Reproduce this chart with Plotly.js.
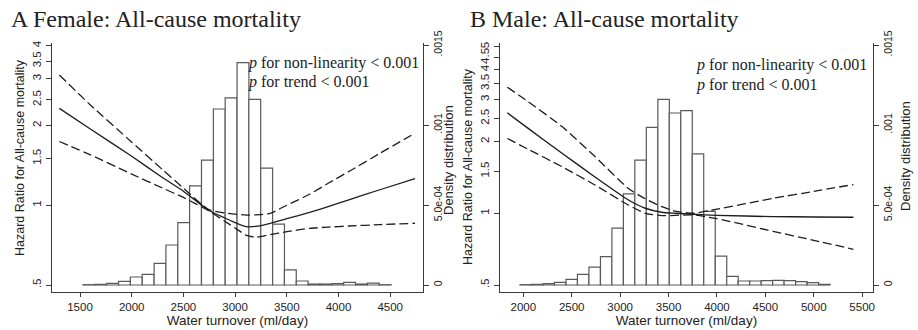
<!DOCTYPE html>
<html>
<head>
<meta charset="utf-8">
<script src="https://cdn.plot.ly/plotly-3.0.1.min.js"></script>
<style>html,body{margin:0;padding:0;background:#fff;}#chart{width:918px;height:330px;}</style>
</head>
<body>
<div id="chart"></div>
<script>
// ---------- Panel A: Female ----------
const femaleBinCenters = [1586, 1701, 1815, 1930, 2044, 2159, 2274, 2388, 2503, 2617, 2732, 2847, 2961,
  3076, 3190, 3305, 3420, 3534, 3649, 3763, 3878, 3993, 4107, 4222, 4336, 4451];
const femaleDensity = [0.000002, 0.000004, 0.000010, 0.000023, 0.000050, 0.000067, 0.000135, 0.000250,
  0.000390, 0.000620, 0.000780, 0.001100, 0.001170, 0.001390, 0.001160, 0.000730, 0.000380, 0.000094,
  0.000025, 0.000006, 0.000006, 0.000008, 0.000017, 0.000006, 0.000012, 0.000002];
const femaleX     = [1300, 1600, 2000, 2300, 2500, 2740, 2900, 3000, 3110, 3200, 3340, 3500, 3720, 3900, 4100, 4400, 4740];
const femaleHR    = [2.32, 1.94, 1.53, 1.27, 1.13, 0.96, 0.895, 0.86, 0.83, 0.832, 0.855, 0.89, 0.94, 0.988, 1.048, 1.144, 1.26];
const femaleUpper = [3.10, 2.39, 1.73, 1.36, 1.16, 0.965, 0.935, 0.925, 0.918, 0.92, 0.932, 1.0, 1.10, 1.21, 1.34, 1.57, 1.87];
const femaleLower = [1.74, 1.55, 1.31, 1.16, 1.07, 0.955, 0.87, 0.82, 0.77, 0.757, 0.775, 0.795, 0.818, 0.827, 0.835, 0.845, 0.855];

// ---------- Panel B: Male ----------
const maleBinCenters = [2025, 2144, 2263, 2381, 2500, 2618, 2737, 2856, 2974, 3093, 3211, 3330, 3449, 3567,
  3686, 3804, 3923, 4042, 4160, 4279, 4398, 4516, 4635, 4753, 4872, 4991, 5109];
const maleDensity = [0.000002, 0.000004, 0.000008, 0.000017, 0.000035, 0.000067, 0.000112, 0.000177,
  0.000355, 0.000570, 0.000780, 0.000985, 0.001160, 0.001075, 0.001090, 0.000820, 0.000460, 0.000180,
  0.000054, 0.000025, 0.000025, 0.000027, 0.000029, 0.000027, 0.000021, 0.000015, 0.000004];
const maleX     = [1835, 2050, 2400, 2740, 3085, 3260, 3430, 3570, 3750, 4000, 4580, 5000, 5410];
const maleHR    = [2.64, 2.27, 1.785, 1.42, 1.137, 1.05, 1.01, 1.0, 0.99, 0.98, 0.968, 0.965, 0.962];
const maleUpper = [3.38, 2.94, 2.31, 1.73, 1.27, 1.15, 1.066, 1.02, 1.0, 1.04, 1.156, 1.235, 1.32];
const maleLower = [2.06, 1.856, 1.568, 1.314, 1.083, 1.0, 0.977, 0.98, 0.985, 0.949, 0.84, 0.77, 0.706];

// ---------- Ticks ----------
const femaleXTicks = [1500, 2000, 2500, 3000, 3500, 4000, 4500];
const maleXTicks = [2000, 2500, 3000, 3500, 4000, 4500, 5000, 5500];
const femaleHRTicks = [0.5, 1, 1.5, 2, 2.5, 3, 3.5, 4];
const femaleHRText = ['.5', '1', '1.5', '2', '2.5', '3', '3.5', '4'];
const maleHRTicks = [0.5, 1, 1.5, 2, 2.5, 3, 3.5, 4, 4.5, 5];
const maleHRText = ['.5', '1', '1.5', '2', '2.5', '3', '3.5', '4', '4.5', '5'];
const densityTicks = [0, 0.0005, 0.001, 0.0015];
const densityText = ['0', '5.0e-04', '.001', '.0015'];
const referenceHR = 1;

const femaleBinWidth = 114.6;
const maleBinWidth = 118.6;

const SANS = 'Liberation Sans, Arial, sans-serif';
const SERIF = 'Liberation Serif, Times New Roman, serif';
const INK = '#222';
const AXIS = '#3a3a3a';

function bars(x, y, w, xa, ya) {
  return {type: 'bar', x: x, y: y, width: w, xaxis: xa, yaxis: ya,
    marker: {color: '#ffffff', line: {color: '#5a5a5a', width: 1.2}},
    hoverinfo: 'skip', showlegend: false};
}
function curve(x, y, xa, ya, dash, w) {
  return {type: 'scatter', mode: 'lines', x: x, y: y, xaxis: xa, yaxis: ya,
    line: {color: '#1e1e1e', width: w, dash: dash, shape: 'spline', smoothing: 0.5},
    hoverinfo: 'skip', showlegend: false};
}

const DASH = '9px,4px';
const traces = [
  bars(femaleBinCenters, femaleDensity, femaleBinWidth, 'x', 'y'),
  curve(femaleX, femaleUpper, 'x', 'y2', DASH, 1.3),
  curve(femaleX, femaleHR, 'x', 'y2', 'solid', 1.3),
  curve(femaleX, femaleLower, 'x', 'y2', DASH, 1.3),
  bars(maleBinCenters, maleDensity, maleBinWidth, 'x2', 'y3'),
  curve(maleX, maleUpper, 'x2', 'y4', DASH, 1.3),
  curve(maleX, maleHR, 'x2', 'y4', 'solid', 1.4),
  curve(maleX, maleLower, 'x2', 'y4', DASH, 1.3)
];

const tickFont = {family: SANS, size: 11.5, color: INK};
const densFont = {family: SANS, size: 10.5, color: INK};

function xAxis(domain, range, ticks, anchor) {
  return {domain: domain, range: range, anchor: anchor, tickvals: ticks, ticktext: ticks.map(String),
    showline: true, linecolor: AXIS, linewidth: 1, ticks: 'outside', ticklen: 4, tickcolor: AXIS,
    showgrid: false, zeroline: false, tickfont: tickFont,
    title: {text: 'Water turnover (ml/day)', font: {family: SANS, size: 13.5, color: INK}, standoff: 1}};
}
function densAxis(anchor) {
  return {anchor: anchor, side: 'right', range: [-0.00004375, 0.0015125], tickvals: densityTicks,
    ticktext: densityText, tickangle: -90, showline: true, linecolor: AXIS, linewidth: 1,
    ticks: 'outside', ticklen: 5, tickcolor: AXIS, showgrid: false, zeroline: false, tickfont: densFont};
}
function hrAxis(anchor, over, range, vals, text) {
  return {anchor: anchor, overlaying: over, side: 'left', type: 'log', range: range,
    tickvals: vals, ticktext: text, tickangle: -90, showline: true, linecolor: AXIS, linewidth: 1,
    ticks: 'outside', ticklen: 5, tickcolor: AXIS, showgrid: false, zeroline: false, tickfont: tickFont};
}

// pixel helpers for paper coordinates (plot area 52..873 x, 43..292 y)
const px = v => (v - 52) / 821;
const py = v => (292 - v) / 249;

function note(text, x, y, size, family, angle, anchor) {
  return {text: text, xref: 'paper', yref: 'paper', x: px(x), y: py(y), showarrow: false,
    xanchor: anchor || 'center', yanchor: 'middle', textangle: angle || 0,
    font: {family: family, size: size, color: INK}};
}

const annotations = [
  note('A Female: All-cause mortality', 9, 19, 24, SERIF, 0, 'left'),
  note('B Male: All-cause mortality', 468, 19, 24, SERIF, 0, 'left'),
  note('<i>p</i> for non-linearity &lt; 0.001', 246, 63, 16, SERIF, 0, 'left'),
  note('<i>p</i> for trend &lt; 0.001', 246, 82, 16, SERIF, 0, 'left'),
  note('<i>p</i> for non-linearity &lt; 0.001', 694, 65, 16, SERIF, 0, 'left'),
  note('<i>p</i> for trend &lt; 0.001', 694, 85, 16, SERIF, 0, 'left'),
  note('Hazard Ratio for All-cause mortality', 20, 158, 12.5, SANS, -90),
  note('Hazard Ratio for All-cause mortality', 468, 166, 12.5, SANS, -90),
  note('Density distribution', 448, 160, 13, SANS, -90),
  note('Density distribution', 905, 156, 13, SANS, -90)
];

const refLine = (xref, yref) => ({type: 'line', xref: xref + ' domain', yref: yref,
  x0: 0, x1: 1, y0: Math.log10(referenceHR), y1: Math.log10(referenceHR),
  line: {color: '#8a8a8a', width: 1, dash: 'dot'}, layer: 'above'});

const layout = {
  width: 918, height: 330,
  margin: {l: 52, r: 45, t: 43, b: 38},
  paper_bgcolor: '#ffffff', plot_bgcolor: '#ffffff',
  showlegend: false,
  font: {family: SANS, color: INK},
  xaxis: xAxis([0, px(423)], [1229, 4817], femaleXTicks, 'y'),
  xaxis2: xAxis([px(500), 1], [1759, 5612], maleXTicks, 'y3'),
  yaxis: densAxis('x'),
  yaxis2: hrAxis('x', 'y', [-0.3274, 0.6122], femaleHRTicks, femaleHRText),
  yaxis3: densAxis('x2'),
  yaxis4: hrAxis('x2', 'y3', [-0.3304, 0.7145], maleHRTicks, maleHRText),
  shapes: [refLine('x', 'y2'), refLine('x2', 'y4')],
  annotations: annotations
};

Plotly.newPlot('chart', traces, layout, {staticPlot: true, displayModeBar: false});
</script>
</body>
</html>
